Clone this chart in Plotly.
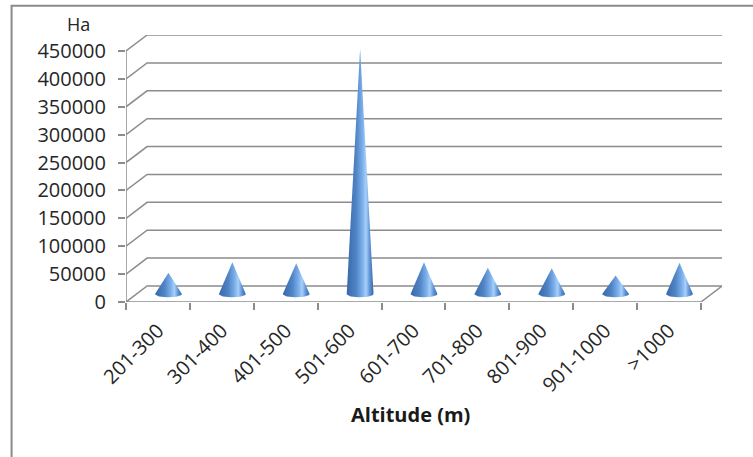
import numpy as np
import plotly.graph_objects as go

# Area (Ha) by altitude class
categories = ["201-300", "301-400", "401-500", "501-600", "601-700",
              "701-800", "801-900", "901-1000", ">1000"]
area_ha = [38000, 57000, 55000, 440000, 57000, 47000, 46000, 33000, 56000]
y_ticks = [0, 50000, 100000, 150000, 200000, 250000, 300000, 350000, 400000, 450000]

# pseudo-3D geometry in data units
DX = 0.33          # depth offset along x (category units)
DY = 28700         # depth offset along y (Ha)
CONE_W = 0.42      # cone base width (category units)
BASE_RY = 6000     # half-height of the cone base ellipse (Ha)

n = len(categories)
x_left, x_right = -0.5, n - 0.5
grid_col = "#8c8c8c"
font = "'Open Sans', Lato, sans-serif"

fig = go.Figure()

# walls / gridlines
for v in y_ticks:
    fig.add_trace(go.Scatter(
        x=[x_left, x_left + DX, x_right + DX],
        y=[v, v + DY, v + DY],
        mode="lines", line=dict(color=grid_col, width=1.5),
        hoverinfo="skip", showlegend=False, cliponaxis=False))

# floor front edge and right edge
fig.add_trace(go.Scatter(
    x=[x_left, x_right, x_right + DX], y=[0, 0, DY],
    mode="lines", line=dict(color=grid_col, width=1.5),
    hoverinfo="skip", showlegend=False, cliponaxis=False))

# value axis line
fig.add_trace(go.Scatter(
    x=[x_left, x_left], y=[0, y_ticks[-1]],
    mode="lines", line=dict(color=grid_col, width=1.5),
    hoverinfo="skip", showlegend=False, cliponaxis=False))

# cones
theta = np.linspace(0, np.pi, 40)
for i, (cat, val) in enumerate(zip(categories, area_ha)):
    xc = i + DX / 2
    yb = DY / 2
    half = CONE_W / 2
    ex = xc + half * np.cos(theta)          # right -> left along the front of base
    ey = yb - BASE_RY * np.sin(theta)
    xs = [xc - half, xc, xc + half] + list(ex)
    ys = [yb, yb + val, yb] + list(ey)
    fig.add_trace(go.Scatter(
        x=xs, y=ys, mode="lines", fill="toself",
        line=dict(width=0, color="rgba(0,0,0,0)"),
        fillgradient=dict(
            type="horizontal",
            colorscale=[[0.0, "#3a68a8"], [0.35, "#4f84c6"], [0.6, "#7fb2ec"],
                        [0.72, "#a6d0fa"], [0.86, "#5e93d4"], [1.0, "#3a67a6"]]),
        name=cat, hovertemplate=cat + ": %{customdata:,} Ha<extra></extra>",
        customdata=[val] * len(xs), showlegend=False, cliponaxis=False))

fig.update_layout(
    width=753, height=457,
    margin=dict(l=126, r=31, t=35, b=155),
    paper_bgcolor="white", plot_bgcolor="white",
    font=dict(family=font, size=20, color="#262626"),
    xaxis=dict(
        range=[x_left, x_right + DX], showgrid=False, zeroline=False,
        showline=False,
        tickmode="array", tickvals=list(range(n)), ticktext=categories,
        tickangle=-45, ticks="", ticklabelstandoff=12,
        minor=dict(tickmode="array", tickvals=[k - 0.5 for k in range(n + 1)],
                   ticks="outside", ticklen=7, tickcolor=grid_col, tickwidth=1.5),
        fixedrange=True),
    yaxis=dict(
        range=[0, y_ticks[-1] + DY], showgrid=False, zeroline=False,
        showline=False,
        tickmode="array", tickvals=y_ticks, ticktext=[str(v) for v in y_ticks],
        ticks="outside", ticklen=7, tickcolor=grid_col, tickwidth=1.5,
        ticklabelstandoff=8, fixedrange=True),
    annotations=[
        dict(text="Ha", xref="paper", yref="paper", x=-0.079, y=1.04,
             xanchor="center", yanchor="middle",
             showarrow=False, font=dict(size=18)),
        dict(text="<b>Altitude (m)</b>", xref="paper", yref="paper",
             x=0.478, y=-0.423, xanchor="center", yanchor="middle",
             showarrow=False, font=dict(size=20, color="#1a1a1a")),
    ],
    shapes=[
        dict(type="rect", xref="paper", yref="paper",
             x0=-0.192, x1=1.07, y0=-0.62, y1=1.11,
             line=dict(color="#8a8a8a", width=2), layer="below"),
    ],
)

fig.write_html("out.html")
